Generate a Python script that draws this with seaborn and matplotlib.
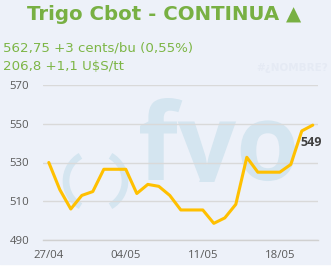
import matplotlib
matplotlib.use("Agg")
import matplotlib.pyplot as plt
import seaborn as sns
import pandas as pd
from matplotlib.patches import Rectangle, Arc, PathPatch
from matplotlib.textpath import TextPath
from matplotlib.font_manager import FontProperties
from matplotlib.transforms import Affine2D

# ---- data ----
dates = ["27/04", "28/04", "29/04", "30/04", "01/05", "02/05", "03/05",
         "04/05", "05/05", "06/05", "07/05", "08/05", "09/05", "10/05",
         "11/05", "12/05", "13/05", "14/05", "15/05", "16/05", "17/05",
         "18/05", "19/05", "20/05", "21/05"]
prices = [530, 516, 506, 513, 515, 526.5, 526.5, 526.5, 514, 518.7, 517.7,
          513, 505.5, 505.5, 505.5, 498.6, 501.4, 508.4, 532.7, 525, 525,
          525, 529, 546.3, 549.3]
tick_labels = ["27/04", "04/05", "11/05", "18/05"]
y_ticks = [490, 510, 530, 550, 570]
last_label = "549"
title = "Trigo Cbot - CONTINUA \u25b2"
line1 = "562,75 +3 cents/bu (0,55%)"
line2 = "206,8 +1,1 U$S/tt"

df = pd.DataFrame({"pos": range(len(dates)), "date": dates, "price": prices})

sns.set_theme(style="white")
plt.rcParams["font.family"] = ["DejaVu Sans"]

W, H = 331, 270
BG = "#edf1f9"
fig = plt.figure(figsize=(W / 100, H / 100), dpi=100, facecolor="white")

# background + watermark layer in pixel coordinates
bg_ax = fig.add_axes([0, 0, 1, 1], zorder=0)
bg_ax.set_xlim(0, W)
bg_ax.set_ylim(H, 0)
bg_ax.axis("off")
bg_ax.add_patch(Rectangle((0, 0), W, 264, color=BG, zorder=0))
wm = "#d4e5f0"
bg_ax.add_patch(Arc((95, 181), 58, 58, theta1=120, theta2=240, color=wm, lw=4.8, zorder=1))
bg_ax.add_patch(Arc((96, 181), 58, 58, theta1=-60, theta2=60, color=wm, lw=4.8, zorder=1))
tp = TextPath((0, 0), "fyo", size=1, prop=FontProperties(family="Open Sans", weight="bold"))
bb = tp.get_extents()
sx = 155 / bb.width
sy = 82 / bb.y1
tr = Affine2D().translate(-bb.x0, 0).scale(sx, -sy).translate(140, 180)
wm_patch = PathPatch(tr.transform_path(tp), facecolor=wm, edgecolor="none", zorder=1)
bg_ax.add_patch(wm_patch)
wm_patch.set_clip_path(Rectangle((0, 0), W, 182, transform=bg_ax.transData))
bg_ax.text(328, 68, "#\u00bfNOMBRE?", fontsize=7.5, color="#e5eaf4",
           ha="right", va="center", fontweight="bold", zorder=1)

# main axes
x0, x1 = 43.3, 318.3
y_top, y_bot = 85, 240
ax = fig.add_axes([x0 / W, 1 - y_bot / H, (x1 - x0) / W, (y_bot - y_top) / H], zorder=2)
ax.patch.set_alpha(0)

sns.lineplot(data=df, x="pos", y="price", ax=ax, color="#ffc000", lw=2.2,
             zorder=3, clip_on=False)

ax.set_xlim(-0.5, len(dates) - 0.5)
ax.set_ylim(490, 570)
ax.set_yticks(y_ticks)
ax.set_yticklabels([str(v) for v in y_ticks], color="#595959", fontsize=8.2,
                   fontfamily="Open Sans")
ax.yaxis.grid(True, color="#d9d9d9", lw=1)
ax.set_axisbelow(True)

tick_pos = [dates.index(d) for d in tick_labels]
ax.set_xticks(tick_pos)
ax.set_xticklabels(tick_labels, color="#595959", fontsize=8.2, fontfamily="Open Sans")
ax.set_xticks([p - 0.5 for p in tick_pos], minor=True)
ax.tick_params(axis="x", which="major", length=0, pad=7)
ax.tick_params(axis="x", which="minor", length=4, color="#d0d0d0", width=1)
ax.tick_params(axis="y", length=0, pad=10)
ax.set_xlabel("")
ax.set_ylabel("")
for s in ["top", "right", "left"]:
    ax.spines[s].set_visible(False)
ax.spines["bottom"].set_color("#d0d0d0")
ax.spines["bottom"].set_linewidth(1)

ax.annotate(last_label, (len(dates) - 1, prices[-1]), xytext=(-1, -12.5),
            textcoords="offset points", ha="center", va="center",
            fontsize=9, fontweight="bold", color="#404040",
            fontfamily="Open Sans", zorder=4)

# header texts
fig.text(164 / W, 1 - 15 / H, title, ha="center", va="center", fontsize=14.2,
         fontweight="bold", color="#78b043")
fig.text(3 / W, 1 - 48 / H, line1, ha="left", va="center", fontsize=9.6,
         color="#7db646")
fig.text(3 / W, 1 - 66 / H, line2, ha="left", va="center", fontsize=9.6,
         color="#7db646")

fig.savefig("out.png", dpi=100, facecolor="white")
